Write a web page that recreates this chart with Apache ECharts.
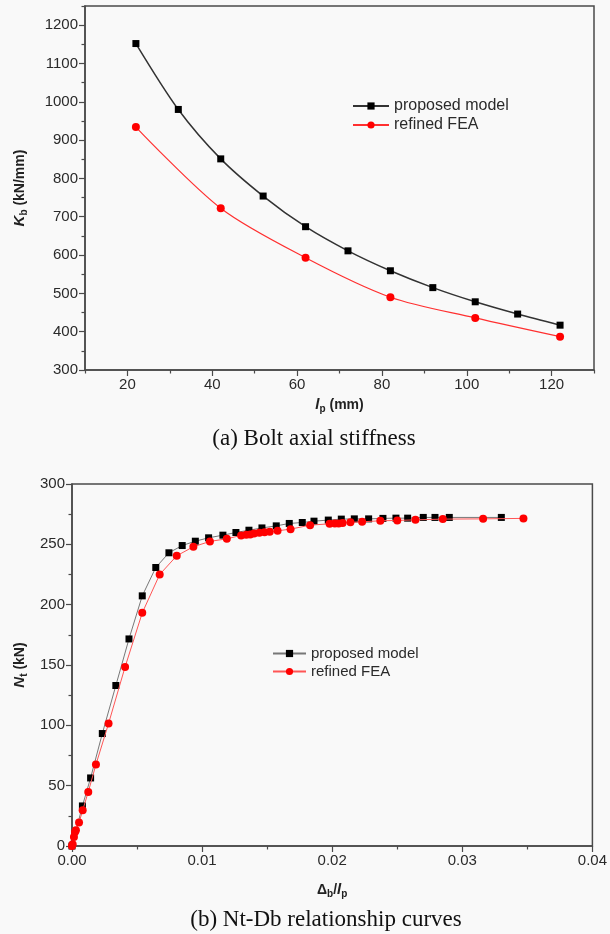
<!DOCTYPE html>
<html>
<head>
<meta charset="utf-8">
<script src="https://cdn.jsdelivr.net/npm/echarts@6/dist/echarts.min.js"></script>
<style>
html,body{margin:0;padding:0;background:#f9f9f9;}
#chart{width:610px;height:934px;}
</style>
</head>
<body>
<div id="chart"></div>
<script>
// ---- Data: (a) Bolt axial stiffness ----
const stiffLp = [22, 32, 42, 52, 62, 72, 82, 92, 102, 112, 122];
const stiffProposed = [1152, 980, 851, 754, 674, 611, 559, 515, 478, 446, 417];
const stiffFeaLp = [22, 42, 62, 82, 102, 122];
const stiffFea = [934, 722, 593, 490, 436, 387];

// ---- Data: (b) Nt-Db relationship curves ----
const ntProposedX = [0, 0.0008, 0.00143, 0.00233, 0.00337, 0.00438, 0.0054, 0.00644, 0.00745, 0.00847, 0.00948, 0.0105, 0.0116, 0.0126, 0.0136, 0.0146, 0.0157, 0.0167, 0.0177, 0.0186, 0.0197, 0.0207, 0.0217, 0.0228, 0.0239, 0.0249, 0.0258, 0.0270, 0.0279, 0.0290, 0.0330];
const ntProposedY = [0, 33.2, 56.4, 93.2, 133, 171.6, 207.3, 230.8, 243, 249, 252.6, 255.4, 257.6, 259.8, 261.7, 263.6, 265.3, 267.3, 268.1, 269.2, 270.1, 270.9, 271.1, 271.1, 271.5, 271.7, 271.7, 272.3, 272.3, 272.3, 272.3];
const ntFeaX = [0, 0.00005, 0.00015, 0.00023, 0.0003, 0.00054, 0.00082, 0.00125, 0.00184, 0.00281, 0.00408, 0.0054, 0.00674, 0.00805, 0.00933, 0.0106, 0.0119, 0.0130, 0.01339, 0.0137, 0.0140, 0.0144, 0.0148, 0.0152, 0.0158, 0.0168, 0.0183, 0.0198, 0.0202, 0.0205, 0.0208, 0.0214, 0.0223, 0.0237, 0.0250, 0.0264, 0.0285, 0.0316, 0.0347];
const ntFeaY = [0, 1.4, 7.5, 11.6, 13, 19.4, 29.6, 44.8, 67.5, 101.5, 148.4, 193.2, 225, 240.5, 248, 252.4, 254.6, 257.4, 257.9, 258.2, 259, 259.6, 260.1, 260.4, 261.2, 262.6, 265.9, 267, 267.3, 267.3, 267.6, 268.2, 268.7, 269.5, 269.8, 270.3, 270.9, 271.1, 271.5];

// ---- Tick values ----
const topXTicks = [20, 40, 60, 80, 100, 120];
const topXMinor = [10, 30, 50, 70, 90, 110, 130];
const topYTicks = [300, 400, 500, 600, 700, 800, 900, 1000, 1100, 1200];
const topYMinor = [350, 450, 550, 650, 750, 850, 950, 1050, 1150, 1250];
const botXTicks = [0, 0.01, 0.02, 0.03, 0.04];
const botXMinor = [0.005, 0.015, 0.025, 0.035];
const botYTicks = [0, 50, 100, 150, 200, 250, 300];
const botYMinor = [25, 75, 125, 175, 225, 275];

const legendNames = ['proposed model', 'refined FEA'];
const captions = ['(a) Bolt axial stiffness', '(b) Nt-Db relationship curves'];

const zip = (xs, ys) => xs.map((x, i) => [x, ys[i]]);
const SANS = '"Liberation Sans", Arial, sans-serif';
const SERIF = '"Liberation Serif", "Times New Roman", serif';
const AX = '#4a4a4a';
const BG = '#f9f9f9';

function mainAxis(gridIndex, min, max, ticks, fmt, pos) {
  return {
    type: 'value', gridIndex, min, max, position: pos,
    axisLine: {show: true, onZero: false, lineStyle: {color: AX, width: 1.5}},
    axisTick: {show: true, inside: false, length: 6, customValues: ticks, lineStyle: {color: AX, width: 1.2}},
    axisLabel: {show: true, customValues: ticks, formatter: fmt, color: '#2a2a2a', fontSize: 15, fontFamily: SANS, margin: 7},
    splitLine: {show: false}
  };
}
function minorAxis(gridIndex, min, max, ticks, pos) {
  return {
    type: 'value', gridIndex, min, max, position: pos,
    axisLine: {show: false, onZero: false},
    axisTick: {show: true, inside: false, length: 3.5, customValues: ticks, lineStyle: {color: AX, width: 1.2}},
    axisLabel: {show: false},
    splitLine: {show: false}
  };
}

const richName = {
  it: {fontStyle: 'italic', fontWeight: 'bold', fontSize: 15, fontFamily: SANS, color: '#222'},
  b: {fontWeight: 'bold', fontSize: 14, fontFamily: SANS, color: '#222'},
  sub: {fontWeight: 'bold', fontSize: 10, fontFamily: SANS, color: '#222', padding: [8, 0, 0, 0]}
};

const xTop = mainAxis(0, 10, 130, topXTicks, v => String(v), 'bottom');
xTop.name = '{it|l}{sub|p}{b| (mm)}';
xTop.nameLocation = 'middle';
xTop.nameGap = 26;
xTop.nameTextStyle = {rich: richName};
const yTop = mainAxis(0, 300, 1250, topYTicks, v => String(v), 'left');
yTop.name = '{it|K}{sub|b}{b| (kN/mm)}';
yTop.nameLocation = 'middle';
yTop.nameGap = 56;
yTop.nameTextStyle = {rich: richName};

const xBot = mainAxis(1, 0, 0.04, botXTicks, v => v.toFixed(2), 'bottom');
xBot.name = '{b|Δ}{sub|b}{b|/}{it|l}{sub|p}';
xBot.nameLocation = 'middle';
xBot.nameGap = 35;
xBot.nameTextStyle = {rich: richName};
const yBot = mainAxis(1, 0, 300, botYTicks, v => String(v), 'left');
yBot.name = '{it|N}{sub|t}{b| (kN)}';
yBot.nameLocation = 'middle';
yBot.nameGap = 42;
yBot.nameTextStyle = {rich: richName};

const chart = echarts.init(document.getElementById('chart'), null, {renderer: 'canvas'});
chart.setOption({
  backgroundColor: BG,
  animation: false,
  grid: [
    {left: 85, right: 16, top: 6, bottom: 564, show: true, borderColor: AX, borderWidth: 1.5, backgroundColor: BG},
    {left: 72, right: 15, top: 484, bottom: 88, show: true, borderColor: AX, borderWidth: 1.5, backgroundColor: BG}
  ],
  xAxis: [xTop, minorAxis(0, 10, 130, topXMinor, 'bottom'), xBot, minorAxis(1, 0, 0.04, botXMinor, 'bottom')],
  yAxis: [yTop, minorAxis(0, 300, 1250, topYMinor, 'left'), yBot, minorAxis(1, 0, 300, botYMinor, 'left')],
  legend: [
    {
      data: legendNames.slice(), left: 347, top: 93, orient: 'vertical', itemGap: 3,
      itemWidth: 36, itemHeight: 9, textStyle: {fontSize: 16, fontFamily: SANS, color: '#2a2a2a'}
    },
    {
      data: legendNames.map(n => n + ' '), left: 267, top: 641, orient: 'vertical', itemGap: 3,
      itemWidth: 33, itemHeight: 9, textStyle: {fontSize: 15, fontFamily: SANS, color: '#2a2a2a'}
    }
  ],
  series: [
    {
      name: legendNames[0], type: 'line', xAxisIndex: 0, yAxisIndex: 0,
      data: zip(stiffLp, stiffProposed), smooth: 0.3,
      symbol: 'rect', symbolSize: 7,
      lineStyle: {color: '#333', width: 1.5}, itemStyle: {color: '#000'}, z: 3
    },
    {
      name: legendNames[1], type: 'line', xAxisIndex: 0, yAxisIndex: 0,
      data: zip(stiffFeaLp, stiffFea), smooth: 0.3,
      symbol: 'circle', symbolSize: 8,
      lineStyle: {color: '#ff3030', width: 1.2}, itemStyle: {color: '#ff0000'}, z: 3
    },
    {
      name: legendNames[0] + ' ', type: 'line', xAxisIndex: 2, yAxisIndex: 2,
      data: zip(ntProposedX, ntProposedY),
      symbol: 'rect', symbolSize: 7,
      lineStyle: {color: '#777', width: 1}, itemStyle: {color: '#000'}, z: 3
    },
    {
      name: legendNames[1] + ' ', type: 'line', xAxisIndex: 2, yAxisIndex: 2,
      data: zip(ntFeaX, ntFeaY),
      symbol: 'circle', symbolSize: 8,
      lineStyle: {color: '#ff5555', width: 1}, itemStyle: {color: '#ff0000'}, z: 4
    }
  ],
  graphic: [
    {type: 'text', x: 314, y: 439, style: {text: captions[0], font: '23px ' + SERIF, fill: '#111', align: 'center', verticalAlign: 'middle'}},
    {type: 'text', x: 326, y: 920, style: {text: captions[1], font: '23px ' + SERIF, fill: '#111', align: 'center', verticalAlign: 'middle'}}
  ]
});
</script>
</body>
</html>
